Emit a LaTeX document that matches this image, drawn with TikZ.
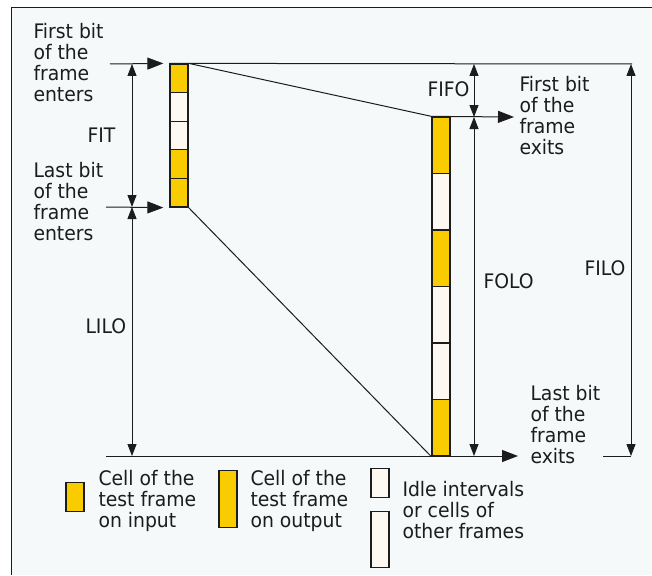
\documentclass[tikz,border=0pt]{standalone}
\usepackage{fontspec}
\setmainfont{DejaVu Sans}[FakeStretch=0.94]
\usepackage{tikz}
\usetikzlibrary{arrows.meta}
\definecolor{cellfill}{HTML}{F9CC00}
\definecolor{idlefill}{HTML}{FDF8F1}
\definecolor{paper}{HTML}{F5F9FA}
\definecolor{ink}{HTML}{1C1C1C}

\begin{document}
\begin{tikzpicture}[x=1pt, y=-1pt, color=ink, line width=1pt,
  every node/.style={font=\fontsize{20}{21}\selectfont, align=left, inner sep=0pt},
  lbl/.style={anchor=base west},
  cell/.style={draw, line width=1.3pt, minimum width=18pt, inner sep=0pt},
  incell/.style={cell, minimum height=28.6pt},
  outcell/.style={cell, minimum height=56.5pt},
  big/.style={-{Triangle[length=16pt,width=12pt]}},
  span/.style={{Triangle[length=12pt,width=9pt]}-{Triangle[length=12pt,width=9pt]}}]
\useasboundingbox (0,0) rectangle (652,575);
\fill[paper] (11,8) rectangle (652,575);
\draw (11,575) -- (11,8) -- (652,8);

% cells of the frame going in and coming out
\foreach \c [count=\i] in {cellfill,idlefill,idlefill,cellfill,cellfill}
  \node[incell, fill=\c] (in\i) at (179, {64+28.6*(\i-0.5)}) {};
\foreach \c [count=\i] in {cellfill,idlefill,cellfill,idlefill,idlefill,cellfill}
  \node[outcell, fill=\c] (out\i) at (441, {117+56.5*(\i-0.5)}) {};

\coordinate (enterA) at (110,64);
\coordinate (enterB) at (106,207);
\coordinate (fitA) at (132,64);
\coordinate (fitB) at (132,207);
\coordinate (liloB) at (132,456);
\coordinate (topend) at (632,64);
\coordinate (botstart) at (106,456);
\coordinate (botend) at (518,456);
\coordinate (fifoA) at (474,64);
\coordinate (fifoB) at (474,117);
\coordinate (foloB) at (474,456);
\coordinate (exitA) at (514,117);
\coordinate (filoA) at (631,64);
\coordinate (filoB) at (631,456);
\coordinate (tick) at (603,456);

\draw[big, shorten >=6pt] (enterA) -- (in1.north west);
\draw[big, shorten >=6pt] (enterB) -- (in5.south west);
\draw (in1.north west) -- (topend);
\draw (in1.north east) -- (out1.north west);
\draw (in5.south east) -- (out6.south west);
\draw[big] (botstart) -- (botend);
\draw[big] (out1.north west) -- (exitA);
\draw (tick) -- (filoB);

% delays
\draw[span] (fitA) -- (fitB);
\draw[span] (fitB) -- (liloB);
\draw[span] (fifoA) -- (fifoB);
\draw[span] (fifoB) -- (foloB);
\draw[span] (filoA) -- (filoB);

% multi-line labels sit on the baseline of their last line
\node[lbl] (firstin) at (33,102) {First bit\\of the\\frame\\enters};
\node[lbl] (lastin) at (33,240) {Last bit\\of the\\frame\\enters};
\node[lbl] (fit) at (87,142) {FIT};
\node[lbl] (lilo) at (85,333) {LILO};
\node[lbl] (fifo) at (427,96) {FIFO};
\node[lbl] (firstout) at (519,154) {First bit\\of the\\frame\\exits};
\node[lbl] (folo) at (483,288) {FOLO};
\node[lbl] (filo) at (584,275) {FILO};
\node[lbl] (lastout) at (530,463) {Last bit\\of the\\frame\\exits};

% key
\node[incell, fill=cellfill] (keyin) at (75,497) {};
\node[outcell, fill=cellfill] (keyout) at (228,499) {};
\node[incell, fill=idlefill] (keyidle) at (380,483) {};
\node[outcell, fill=idlefill] (keyother) at (380,539.5) {};
\node[lbl] (keyintext) at (98,527) {Cell of the\\test frame\\on input};
\node[lbl] (keyouttext) at (250,527) {Cell of the\\test frame\\on output};
\node[lbl] (keyidletext) at (402,538) {Idle intervals\\or cells of\\other frames};
\end{tikzpicture}
\end{document}
